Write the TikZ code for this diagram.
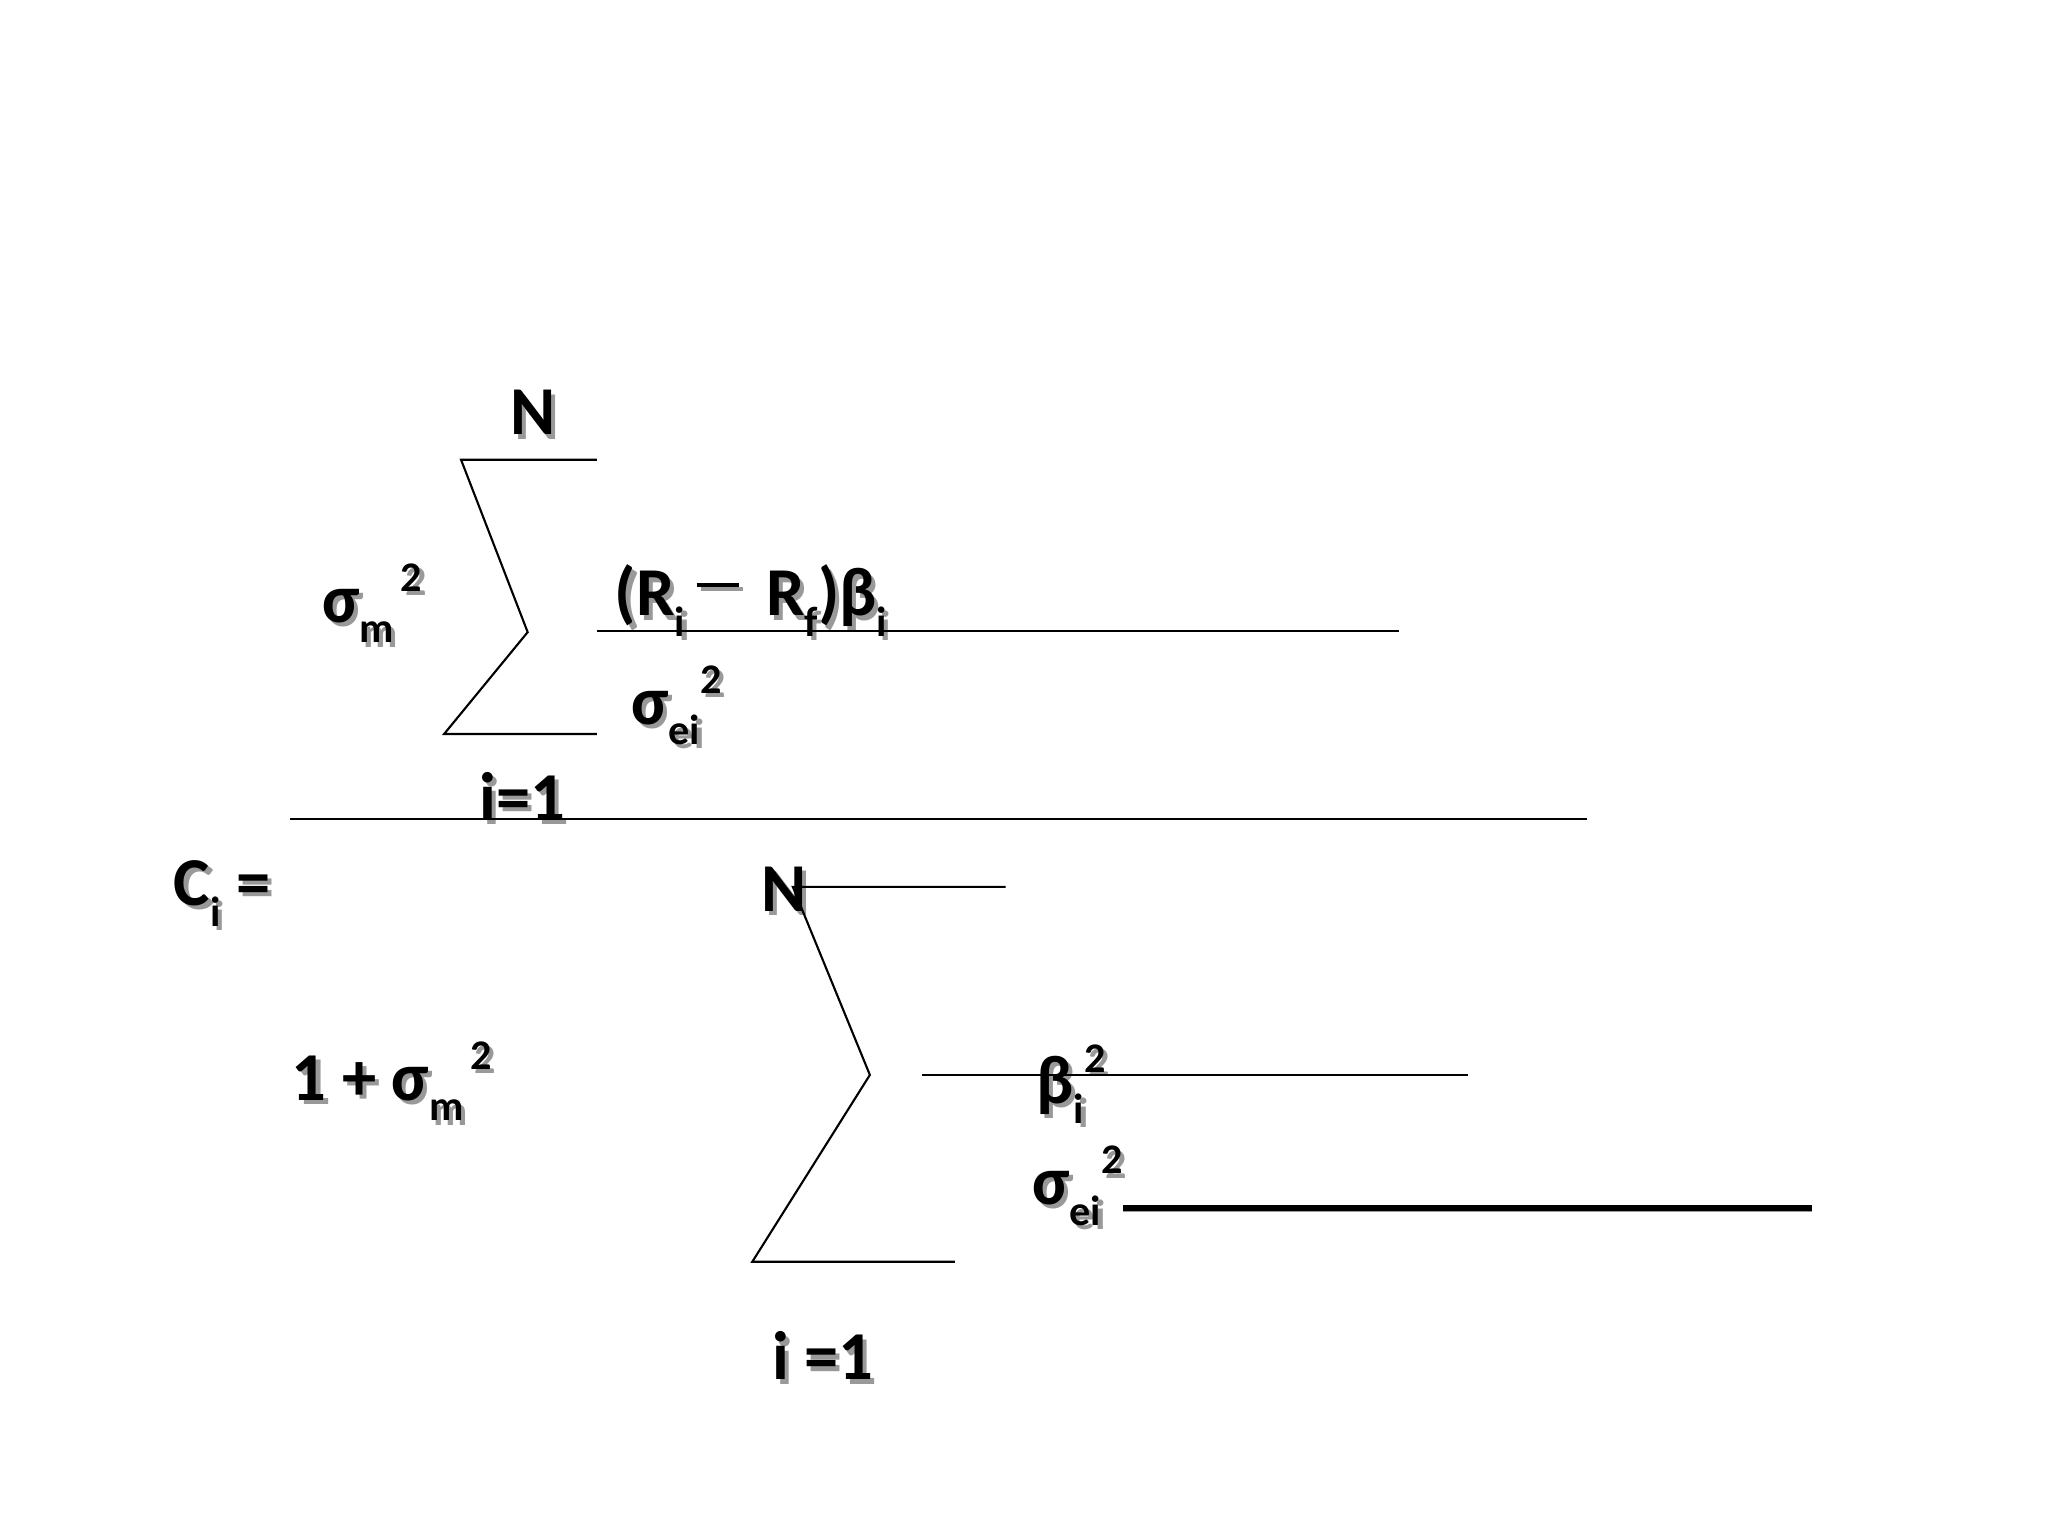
\documentclass[tikz,border=0pt]{standalone}
\usepackage{fontspec}
\setmainfont{Carlito}
\newcommand\dn[1]{\raisebox{-0.3em}{\fontsize{12}{13}\selectfont #1}}
\newcommand\upp[1]{\raisebox{0.45em}{\fontsize{12}{13}\selectfont #1}}
\begin{document}
\begin{tikzpicture}[x=0.013061cm,y=-0.013061cm,
  txt/.style={font=\bfseries\fontsize{19.5}{22}\selectfont,inner sep=0pt},
  shd/.style={txt,text=black!40,xshift=1.2pt,yshift=-1.2pt},
  ln/.style={line width=0.6pt}]
\useasboundingbox (0,0) rectangle (1568,1176);
\newcommand\T[3]{\node[shd] (#1s) at (#2) {#3};\node[txt] (#1) at (#2) {#3};}
\T{nA}{408,316}{N}
\T{sm}{285,462}{σ\dn{m}\upp{\,2}}
\T{num}{575,460}{(R\dn{i}\,\rule[0.42em]{0.62em}{1.3pt}\, R\dn{f})β\dn{i}}
\T{sei}{518,540}{σ\dn{ei}\upp{2}}
\T{iA}{400,610}{i=1}
\T{ci}{170,684}{C\dn{i} =}
\T{nB}{600,681}{N}
\T{den}{300,828}{1 + σ\dn{m}\upp{\,2}}
\T{bi}{820,830}{β\dn{i}\upp{2}}
\T{seiB}{825,908}{σ\dn{ei}\upp{2}}
\T{iB}{630,1038}{i =1}
\coordinate (a1) at (457,352); \coordinate (a2) at (353,352); \coordinate (a3) at (404,484);
\coordinate (a4) at (340,562); \coordinate (a5) at (457,562);
\draw[ln] (a1)--(a2)--(a3)--(a4)--(a5);
\coordinate (l1a) at (457,483); \coordinate (l1b) at (1071,483);
\draw[ln] (l1a)--(l1b);
\coordinate (fa) at (222,627); \coordinate (fb) at (1215,627);
\draw[ln] (fa)--(fb);
\coordinate (b1) at (770,679); \coordinate (b2) at (607,679); \coordinate (b3) at (666,823);
\coordinate (b4) at (576,966); \coordinate (b5) at (731,966);
\draw[ln] (b1)--(b2)--(b3)--(b4)--(b5);
\coordinate (l2a) at (706,823); \coordinate (l2b) at (1124,823);
\draw[ln] (l2a)--(l2b);
\coordinate (l3a) at (860,925); \coordinate (l3b) at (1387,925);
\draw[line width=2pt,black!40,xshift=0.8pt,yshift=-0.8pt] (l3a)--(l3b);
\draw[line width=1.8pt] (l3a)--(l3b);
\end{tikzpicture}
\end{document}
